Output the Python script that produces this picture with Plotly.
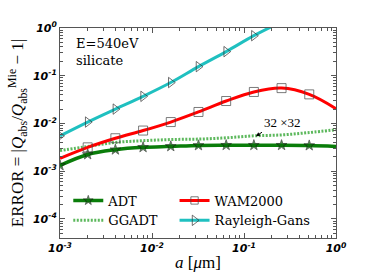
import math
import plotly.graph_objects as go

# sizes a [micron]
a_um = [1e-3, 2e-3, 4e-3, 8e-3, 1.6e-2, 3.2e-2, 6.4e-2, 0.128, 0.256, 0.512, 1.0]

adt = [1.32e-3, 2.24e-3, 2.82e-3, 3.16e-3, 3.31e-3, 3.47e-3, 3.5e-3, 3.5e-3, 3.5e-3, 3.45e-3, 3.3e-3]
ggadt = [2.7e-3, 3.3e-3, 4.0e-3, 4.35e-3, 4.6e-3, 4.7e-3, 5.0e-3, 5.5e-3, 5.75e-3, 6.45e-3, 7.4e-3]
wam = [1.86e-3, 3.16e-3, 4.9e-3, 7.1e-3, 1.07e-2, 1.74e-2, 2.95e-2, 4.57e-2, 5.5e-2, 4.07e-2, 2.04e-2]
rg_a = [1e-3, 2e-3, 4e-3, 8e-3, 1.6e-2, 3.2e-2, 6.4e-2, 0.128, 0.256]
rg = [5.5e-3, 1.07e-2, 2.0e-2, 3.7e-2, 7.2e-2, 0.155, 0.32, 0.69, 1.35]

# which points carry markers
adt_mark = [1, 1, 1, 1, 1, 1, 1, 1, 1, 1, 0]
wam_mark = [0, 1, 1, 1, 1, 1, 1, 1, 1, 1, 0]
rg_mark = [1, 1, 1, 1, 1, 1, 1, 1, 1]

x_tickvals = [1e-3, 1e-2, 1e-1, 1]
x_ticktext = ["10<sup>-3</sup>", "10<sup>-2</sup>", "10<sup>-1</sup>", "10<sup>0</sup>"]
y_tickvals = [1e-4, 1e-3, 1e-2, 1e-1, 1]
y_ticktext = ["10<sup>-4</sup>", "10<sup>-3</sup>", "10<sup>-2</sup>", "10<sup>-1</sup>", "10<sup>0</sup>"]

# annotation "32 x 32" points at the GGADT curve (a, error)
grid_label = "32 ×32"
grid_a = 0.135
grid_err = 5.4e-3

minor_x = [m * 10 ** e for e in (-3, -2, -1) for m in range(2, 10)]
minor_y = [m * 10 ** e for e in (-5, -4, -3, -2, -1) for m in range(2, 10)]

fig = go.Figure()

fig.add_trace(go.Scatter(
    x=a_um, y=ggadt, mode="lines", name="GGADT", legend="legend",
    line=dict(color="#5cb85c", width=3, dash="2px,1.5px", shape="spline"),
))
fig.add_trace(go.Scatter(
    x=a_um, y=adt, mode="lines+markers", name="ADT", legend="legend", legendrank=1,
    line=dict(color="#0a7d0a", width=3.5, shape="spline"),
    marker=dict(symbol="star", size=[8 * m for m in adt_mark], color="#0a6d0a",
                line=dict(color="#111", width=0.8)),
))
fig.add_trace(go.Scatter(
    x=a_um, y=wam, mode="lines+markers", name="WAM2000", legend="legend2", legendrank=1,
    line=dict(color="#ff0000", width=3, shape="spline"),
    marker=dict(symbol="square-open", size=[9 * m for m in wam_mark], color="#444",
                line=dict(width=1)),
))
fig.add_trace(go.Scatter(
    x=rg_a, y=rg, mode="lines+markers", name="Rayleigh-Gans", legend="legend2", legendrank=2,
    line=dict(color="#1fc0c0", width=3, shape="spline"),
    marker=dict(symbol="triangle-right-open", size=[9 * m for m in rg_mark], color="#333",
                line=dict(width=1)),
))

tickfont = dict(family="DejaVu Sans", size=11, color="#000", weight="bold", style="italic")
axis_common = dict(
    type="log", showgrid=False, zeroline=False, showline=True, linecolor="#555",
    linewidth=1, mirror="ticks", ticks="inside", ticklen=5, tickcolor="#555",
    tickfont=tickfont, tickmode="array", automargin=False,
)

fig.update_xaxes(
    **axis_common, range=[-3, 0], tickvals=x_tickvals, ticktext=x_ticktext,
    minor=dict(tickmode="array", tickvals=minor_x, ticks="inside", ticklen=3, tickcolor="#555"),
    title=dict(text="<i>a</i> [<i>μ</i>m]", font=dict(family="Liberation Serif", size=17, color="#000"),
               standoff=1),
)
fig.update_yaxes(
    **axis_common, range=[-4.4, 0], tickvals=y_tickvals, ticktext=y_ticktext,
    minor=dict(tickmode="array", tickvals=minor_y, ticks="inside", ticklen=3, tickcolor="#555"),
    title=dict(text="ERROR = |<i>Q</i><sub>abs</sub>/<i>Q</i><sub>abs</sub><sup>Mie</sup> − 1|",
               font=dict(family="Liberation Serif", size=17, color="#000"), standoff=4),
)

fig.add_annotation(x=0.05, y=0.97, xref="paper", yref="paper", xanchor="left", yanchor="top",
                   text="E=540eV<br>silicate", showarrow=False, align="left",
                   font=dict(family="DejaVu Serif", size=13, color="#000"))
# log axes: annotation positions are given in log10 units
fig.add_annotation(x=math.log10(grid_a), y=math.log10(grid_err), xref="x", yref="y",
                   text=grid_label,
                   showarrow=True, arrowhead=2, arrowsize=0.8, arrowwidth=1, arrowcolor="#000",
                   ax=6, ay=-4, xanchor="left", yanchor="bottom",
                   font=dict(family="Liberation Serif", size=13, color="#000"))

legend_common = dict(orientation="v", yanchor="top", xanchor="left", bgcolor="rgba(0,0,0,0)",
                     font=dict(family="DejaVu Serif", size=13, color="#000"),
                     itemwidth=30, tracegroupgap=0, traceorder="normal")

fig.update_layout(
    width=374, height=280,
    margin=dict(l=60, r=38, t=28, b=42),
    paper_bgcolor="white", plot_bgcolor="white",
    showlegend=True,
    legend=dict(x=0.03, y=0.25, **legend_common),
    legend2=dict(x=0.415, y=0.25, **legend_common),
)

fig.write_html("out.html", config={"displayModeBar": False},
               post_script="document.body.style.margin='0px';")
